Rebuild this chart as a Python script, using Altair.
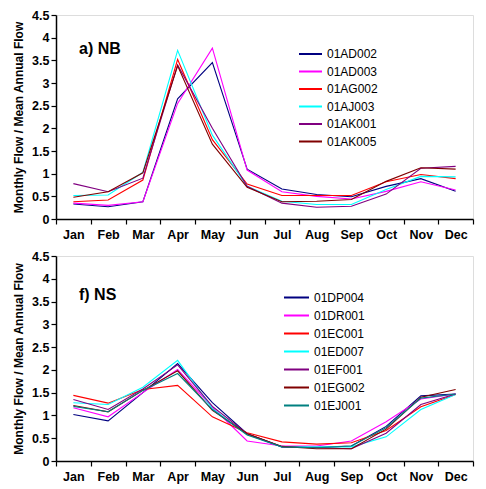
import altair as alt
import pandas as pd

months = ["Jan", "Feb", "Mar", "Apr", "May", "Jun", "Jul", "Aug", "Sep", "Oct", "Nov", "Dec"]

# Panel a) NB
nb_stations = ["01AD002", "01AD003", "01AG002", "01AJ003", "01AK001", "01AK005"]
nb_01AD002 = [0.33, 0.27, 0.38, 2.65, 3.45, 1.10, 0.66, 0.54, 0.49, 0.72, 0.89, 0.61]
nb_01AD003 = [0.35, 0.30, 0.38, 2.55, 3.77, 1.08, 0.60, 0.50, 0.44, 0.61, 0.82, 0.64]
nb_01AG002 = [0.38, 0.42, 0.86, 3.52, 1.75, 0.77, 0.52, 0.52, 0.52, 0.82, 0.98, 0.89]
nb_01AJ003 = [0.52, 0.53, 1.03, 3.72, 1.85, 0.72, 0.39, 0.32, 0.32, 0.65, 0.94, 0.93]
nb_01AK001 = [0.78, 0.60, 0.90, 3.40, 2.00, 0.72, 0.35, 0.26, 0.28, 0.55, 1.12, 1.16]
nb_01AK005 = [0.48, 0.60, 1.02, 3.38, 1.65, 0.70, 0.38, 0.39, 0.43, 0.83, 1.13, 1.10]
nb_values = [nb_01AD002, nb_01AD003, nb_01AG002, nb_01AJ003, nb_01AK001, nb_01AK005]
nb_colors = ["#000080", "#FF00FF", "#FF0000", "#00FFFF", "#800080", "#800000"]

# Panel f) NS
ns_stations = ["01DP004", "01DR001", "01EC001", "01ED007", "01EF001", "01EG002", "01EJ001"]
ns_01DP004 = [1.02, 0.88, 1.50, 2.14, 1.28, 0.60, 0.31, 0.30, 0.33, 0.76, 1.43, 1.47]
ns_01DR001 = [1.17, 0.97, 1.50, 2.01, 1.18, 0.44, 0.33, 0.33, 0.44, 0.86, 1.36, 1.47]
ns_01EC001 = [1.44, 1.27, 1.57, 1.66, 0.97, 0.62, 0.42, 0.37, 0.40, 0.67, 1.19, 1.46]
ns_01ED007 = [1.28, 1.24, 1.62, 2.21, 1.15, 0.58, 0.31, 0.31, 0.31, 0.53, 1.13, 1.46]
ns_01EF001 = [1.35, 1.13, 1.58, 2.11, 1.20, 0.60, 0.31, 0.29, 0.27, 0.61, 1.24, 1.47]
ns_01EG002 = [1.22, 1.08, 1.55, 1.98, 1.11, 0.60, 0.32, 0.27, 0.27, 0.70, 1.40, 1.57]
ns_01EJ001 = [1.20, 1.08, 1.55, 1.92, 1.13, 0.57, 0.31, 0.29, 0.33, 0.73, 1.38, 1.47]
ns_values = [ns_01DP004, ns_01DR001, ns_01EC001, ns_01ED007, ns_01EF001, ns_01EG002, ns_01EJ001]
ns_colors = ["#000080", "#FF00FF", "#FF0000", "#00FFFF", "#800080", "#800000", "#008080"]

y_ticks = [0, 0.5, 1, 1.5, 2, 2.5, 3, 3.5, 4, 4.5]
FONT = "Liberation Sans"


def make_df(stations, values):
    rows = []
    for s, vals in zip(stations, values):
        for m, v in zip(months, vals):
            rows.append({"station": s, "month": m, "value": v})
    return pd.DataFrame(rows)


def panel(stations, values, colors, label, label_y, leg_x, leg_y, sym_size, row_pad, height):
    df = make_df(stations, values)
    x = alt.X("month:N", sort=months,
              scale=alt.Scale(type="band", paddingInner=0, paddingOuter=0),
              axis=alt.Axis(title=None, labelAngle=0, tickBand="extent",
                            labelFontWeight="bold", labelFontSize=12.5, labelFont=FONT,
                            labelPadding=4, tickSize=5, tickColor="black",
                            domainColor="black", domainWidth=1.5, tickWidth=1.2,
                            labelColor="black"))
    y = alt.Y("value:Q", scale=alt.Scale(domain=[0, 4.5], nice=False),
              axis=alt.Axis(title="Monthly Flow / Mean Annual Flow", values=y_ticks,
                            format="~g", grid=False, labelFontWeight="bold",
                            labelFontSize=12.5, labelFont=FONT, labelColor="black",
                            titleFont=FONT, titleFontSize=12, titleFontWeight="bold",
                            titleColor="black", titlePadding=6, tickSize=5,
                            tickColor="black", domainColor="black", domainWidth=1.5,
                            tickWidth=1.2, labelPadding=2))
    lines = alt.Chart(df).mark_line(strokeWidth=1.1).encode(
        x=x, y=y,
        color=alt.Color("station:N",
                        scale=alt.Scale(domain=stations, range=colors),
                        legend=alt.Legend(title=None, orient="none", legendX=leg_x,
                                          legendY=leg_y, symbolType="stroke",
                                          symbolSize=sym_size, symbolStrokeWidth=2,
                                          labelFont=FONT, labelFontSize=12,
                                          labelColor="black", rowPadding=row_pad,
                                          clipHeight=12,
                                          labelOffset=4, padding=0)),
        detail="station:N",
    )
    txt = alt.Chart(pd.DataFrame({"t": [label]})).mark_text(
        font=FONT, fontSize=16, fontWeight="bold", align="left",
        baseline="alphabetic", color="black"
    ).encode(text="t:N", x=alt.value(23), y=alt.value(label_y))
    return alt.layer(lines, txt).properties(width=417, height=height)


top = panel(nb_stations, nb_values, nb_colors, "a) NB", 38.5, 242, 33, 529, 5.5, 204)
bottom = panel(ns_stations, ns_values, ns_colors, "f) NS", 44, 227, 35.5, 625, 6, 205)

chart = alt.vconcat(top, bottom, spacing=8).resolve_scale(color="independent").properties(
    padding={"left": 4, "top": 0, "right": 2, "bottom": 2}
).configure_view(stroke="black", strokeWidth=1.5).configure(background="white")

chart.save("out.html", embed_options={"renderer": "svg", "actions": False})
